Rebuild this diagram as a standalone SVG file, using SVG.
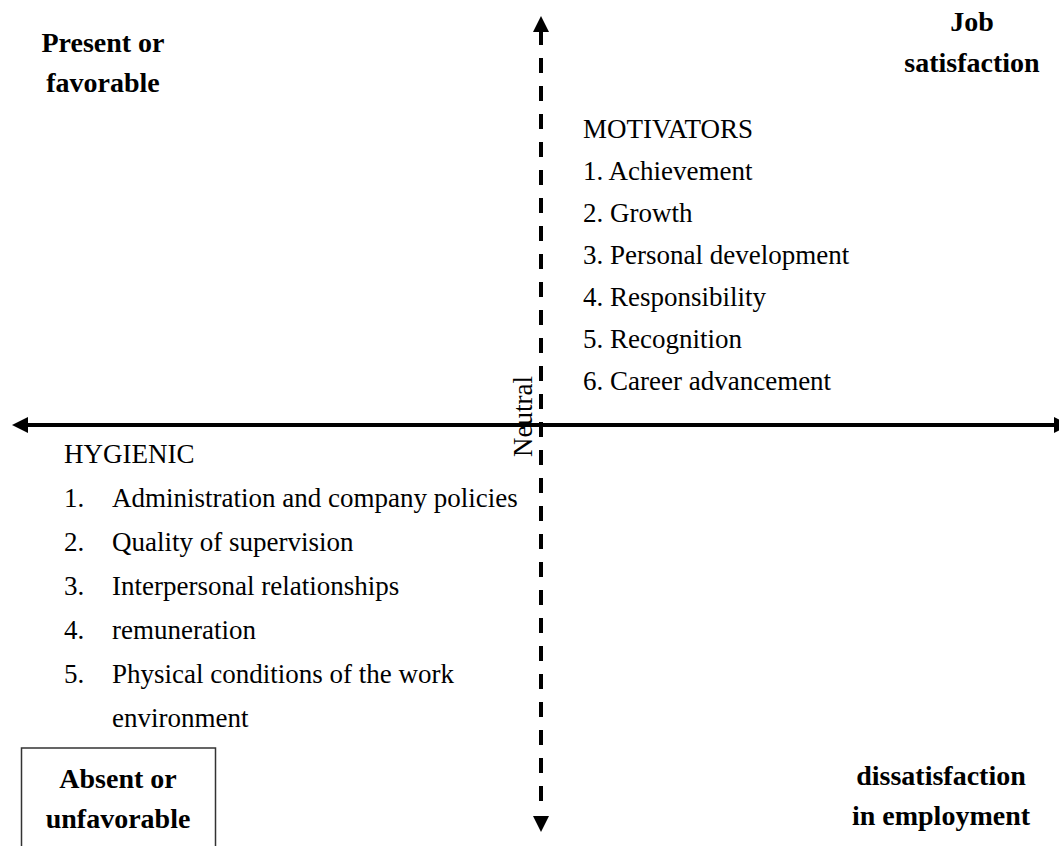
<svg xmlns="http://www.w3.org/2000/svg" width="1059" height="846" viewBox="0 0 1059 846">
<style>
.t{font-family:"Liberation Serif","Times New Roman",serif;font-size:27px;fill:#000}
.b{font-family:"Liberation Serif","Times New Roman",serif;font-size:28px;font-weight:bold;fill:#000;text-anchor:middle}
.ax{stroke:#000;stroke-width:4;fill:none}
</style>
<defs>
<path id="ah" d="M0,0 L-16,-8 L-16,8 Z" fill="#000"/>
</defs>
<rect width="1059" height="846" fill="#fff"/>
<g id="connectors">
<line class="ax" x1="541" y1="30" x2="541" y2="802" stroke-dasharray="15 13"/>
<line class="ax" x1="26" y1="425" x2="1056" y2="425"/>
<use href="#ah" transform="translate(541,16) rotate(-90)"/>
<use href="#ah" transform="translate(541,832) rotate(90)"/>
<use href="#ah" transform="translate(12,425) rotate(180)"/>
<use href="#ah" transform="translate(1070,425)"/>
</g>
<g id="present-favorable">
<text class="b" x="103" y="52">Present or</text>
<text class="b" x="103" y="92">favorable</text>
</g>
<g id="job-satisfaction">
<text class="b" x="972" y="31">Job</text>
<text class="b" x="972" y="72">satisfaction</text>
</g>
<g id="motivators">
<text class="t" x="583" y="138">MOTIVATORS</text>
<text class="t" x="583" y="180">1. Achievement</text>
<text class="t" x="583" y="222">2. Growth</text>
<text class="t" x="583" y="264">3. Personal development</text>
<text class="t" x="583" y="306">4. Responsibility</text>
<text class="t" x="583" y="348">5. Recognition</text>
<text class="t" x="583" y="390">6. Career advancement</text>
</g>
<g id="neutral">
<text class="t" transform="translate(532,457) rotate(-90)">Neutral</text>
</g>
<g id="hygienic">
<text class="t" x="64" y="463">HYGIENIC</text>
<text class="t" x="64" y="507">1.</text><text class="t" x="112" y="507">Administration and company policies</text>
<text class="t" x="64" y="551">2.</text><text class="t" x="112" y="551">Quality of supervision</text>
<text class="t" x="64" y="595">3.</text><text class="t" x="112" y="595">Interpersonal relationships</text>
<text class="t" x="64" y="639">4.</text><text class="t" x="112" y="639">remuneration</text>
<text class="t" x="64" y="683">5.</text><text class="t" x="112" y="683">Physical conditions of the work</text>
<text class="t" x="112" y="727">environment</text>
</g>
<g id="absent-unfavorable">
<rect x="21.5" y="748" width="194" height="110" fill="none" stroke="#333" stroke-width="1.5"/>
<text class="b" x="118" y="788">Absent or</text>
<text class="b" x="118" y="828">unfavorable</text>
</g>
<g id="dissatisfaction">
<text class="b" x="941" y="785">dissatisfaction</text>
<text class="b" x="941" y="825">in employment</text>
</g>
</svg>
